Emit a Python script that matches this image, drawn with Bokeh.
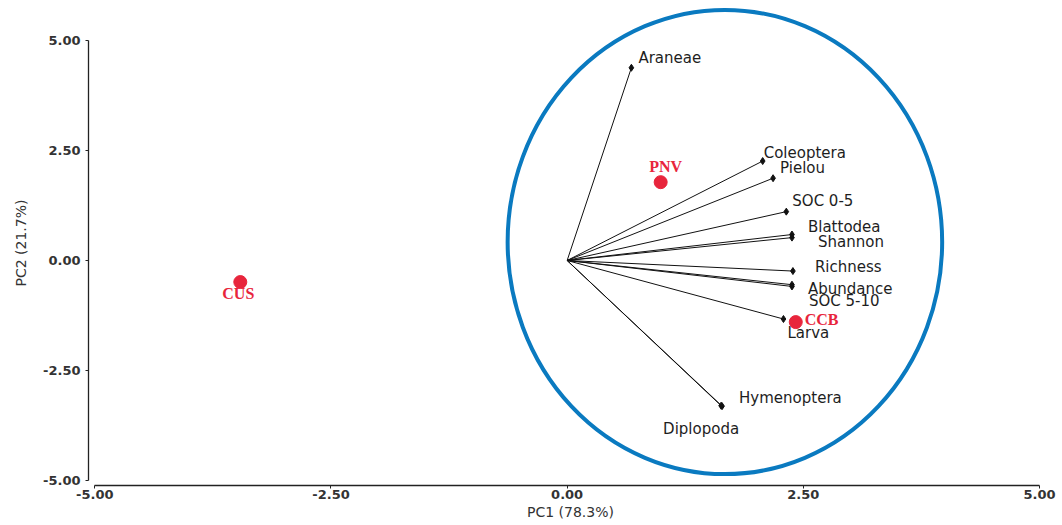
from bokeh.plotting import figure
from bokeh.models import ColumnDataSource, FixedTicker, NumeralTickFormatter, Range1d
from bokeh.core.properties import value
from bokeh.embed import file_html
from bokeh.resources import INLINE

# ---------------- data ----------------
variables = ["Araneae", "Coleoptera", "Pielou", "SOC 0-5", "Blattodea", "Shannon",
             "Richness", "Abundance", "SOC 5-10", "Larva", "Hymenoptera", "Diplopoda"]
pc1_load = [0.68, 2.07, 2.18, 2.32, 2.38, 2.38, 2.39, 2.38, 2.38, 2.29, 1.64, 1.63]
pc2_load = [4.38, 2.26, 1.87, 1.11, 0.59, 0.52, -0.24, -0.55, -0.59, -1.33, -3.31, -3.30]

sites = ["PNV", "CUS", "CCB"]
site_pc1 = [0.99, -3.46, 2.42]
site_pc2 = [1.78, -0.49, -1.40]

axis_ticks = [-5.0, -2.5, 0.0, 2.5, 5.0]
x_title = "PC1 (78.3%)"
y_title = "PC2 (21.7%)"

# ---------------- layout / style (screen offsets) ----------------
var_dx = [7, 1, 7, 6, 16, 26, 22, 16, 17, 4, 17, -58]
var_dy = [-10, -8, -10, -11, -8, 4, -4, 4, 15, 14, -8, 23]
site_dx = [5, -2, 9]
site_dy = [-16, 11, -3]
site_align = ["center", "center", "left"]

RED = "#e8253c"
BLUE = "#0a7ac0"
SANS = "DejaVu Sans"

p = figure(width=1062, height=525, output_backend="svg", toolbar_location=None,
           x_range=Range1d(-5.067, 5.138), y_range=Range1d(-5.114, 5.909),
           min_border_left=88, min_border_right=10, min_border_top=0, min_border_bottom=40)
p.outline_line_color = None
p.xgrid.visible = False
p.ygrid.visible = False
p.background_fill_color = "white"
p.border_fill_color = "white"

for ax in (p.xaxis[0], p.yaxis[0]):
    ax.bounds = (-5, 5)
    ax.ticker = FixedTicker(ticks=axis_ticks)
    ax.formatter = NumeralTickFormatter(format="0.00")
    ax.minor_tick_line_color = None
    ax.major_tick_in = 0
    ax.major_tick_out = 3
    ax.axis_line_color = "#222222"
    ax.axis_line_width = 1.3
    ax.major_tick_line_color = "#222222"
    ax.major_label_text_font = SANS
    ax.major_label_text_font_size = "13px"
    ax.major_label_text_font_style = "bold"
    ax.major_label_text_color = "#333333"
    ax.axis_label_text_font = SANS
    ax.axis_label_text_font_size = "14px"
    ax.axis_label_text_font_style = "normal"
    ax.axis_label_text_color = "#333333"

p.xaxis.axis_label = x_title
p.xaxis.major_label_standoff = 1
p.xaxis.axis_label_standoff = 2
p.yaxis.axis_label = y_title
p.yaxis.major_label_standoff = 5
p.yaxis.axis_label_standoff = 11

# ellipse enclosing loadings
p.ellipse(x=[1.67], y=[0.42], width=[4.6], height=[10.55],
          fill_alpha=0, line_color=BLUE, line_width=4)

# loadings
vsrc = ColumnDataSource(dict(x=pc1_load, y=pc2_load, name=variables,
                             x0=[0.0] * len(variables), y0=[0.0] * len(variables),
                             dx=var_dx, dy=var_dy))
p.segment(x0="x0", y0="y0", x1="x", y1="y", source=vsrc, line_color="#111111", line_width=1)
p.scatter(x="x", y="y", source=vsrc, marker="diamond", size=7, color="#111111")
p.text(x="x", y="y", text="name", source=vsrc, x_offset="dx", y_offset="dy",
       text_font=value(SANS), text_font_size="15px", text_color="#1e1e1e",
       text_align="left", text_baseline="middle")

# sites
ssrc = ColumnDataSource(dict(x=site_pc1, y=site_pc2, name=sites,
                             dx=site_dx, dy=site_dy, al=site_align))
p.scatter(x="x", y="y", source=ssrc, marker="circle", size=13, color=RED)
p.text(x="x", y="y", text="name", source=ssrc, x_offset="dx", y_offset="dy",
       text_font=value("Liberation Serif"), text_font_size="16px", text_font_style="bold",
       text_color=RED, text_align="al", text_baseline="middle")

open("out.html", "w").write(file_html(p, INLINE))
